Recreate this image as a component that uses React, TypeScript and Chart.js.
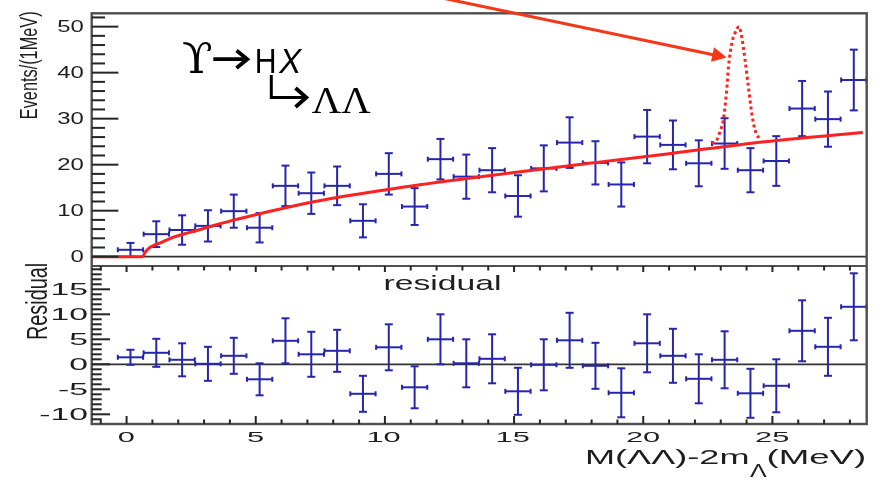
import React, { useEffect, useRef } from "react";
import { Chart, registerables } from "chart.js";

Chart.register(...registerables);

// ---------------- data ----------------
const binCenters = [0.15, 1.15, 2.15, 3.15, 4.15, 5.15, 6.15, 7.15, 8.15, 9.15, 10.15, 11.15, 12.15, 13.15, 14.15, 15.15, 16.15, 17.15, 18.15, 19.15, 20.15, 21.15, 22.15, 23.15, 24.15, 25.15, 26.15, 27.15, 28.15];
const events = [1.5, 4.9, 5.8, 6.7, 9.9, 6.3, 15.4, 13.8, 15.4, 7.8, 18.0, 10.9, 21.2, 17.4, 18.8, 13.2, 19.2, 24.8, 20.4, 15.7, 26.1, 24.3, 20.3, 24.6, 18.8, 20.8, 32.2, 29.9, 38.4];
const eventErrors = [1.5, 2.8, 3.2, 3.4, 3.6, 3.2, 4.4, 4.5, 4.2, 3.6, 4.5, 4.0, 4.4, 4.8, 4.8, 4.5, 5.0, 5.5, 4.7, 4.8, 5.8, 5.3, 5.0, 5.5, 4.8, 5.4, 6.0, 6.0, 6.6];
const residuals = [1.4, 2.3, 0.9, 0.1, 1.7, -3.0, 4.7, 2.0, 2.7, -5.9, 3.4, -4.6, 5.0, 0.2, 1.1, -5.4, -0.1, 4.8, -0.3, -5.7, 4.2, 1.7, -2.9, 0.9, -5.8, -4.3, 6.7, 3.5, 11.5];
const residualErrors = [1.5, 2.8, 3.3, 3.4, 3.6, 3.2, 4.5, 4.5, 4.2, 3.6, 4.6, 4.2, 5.0, 4.8, 4.9, 4.7, 5.1, 5.5, 4.6, 4.9, 5.8, 5.4, 4.9, 5.7, 4.9, 5.3, 6.1, 5.8, 6.7];
const fitX = [-1.35, 0.6, 0.75, 0.9, 1.3, 1.7, 2.45, 3.2, 4.1, 5.2, 7.1, 10.1, 12.5, 15.0, 18.2, 21.0, 24.7, 28.5];
const fitY = [0, 0, 1.2, 2.0, 3.0, 4.0, 5.3, 6.5, 7.9, 9.4, 11.8, 14.6, 16.5, 18.3, 20.5, 22.4, 25.0, 27.0];
const peakX = [22.65, 22.85, 22.97, 23.1, 23.23, 23.3, 23.43, 23.55, 23.71, 23.81, 23.94, 24.07, 24.2, 24.33, 24.52];
const peakY = [24.6, 25.4, 27.2, 29.7, 36.2, 41.3, 46.4, 48.6, 50.0, 47.8, 42.8, 36.9, 31.2, 27.5, 25.4];

const eventTicks = [0, 10, 20, 30, 40, 50];
const residualTicks = [-10, -5, 0, 5, 10, 15];
const massTicks = [0, 5, 10, 15, 20, 25];
const eventTickLabels = ["0", "10", "20", "30", "40", "50"];
const residualTickLabels = ["-10", "-5", "0", "5", "10", "15"];
const massTickLabels = ["0", "5", "10", "15", "20", "25"];
// minor tick positions
const eventMinorTicks = [2, 4, 6, 8, 12, 14, 16, 18, 22, 24, 26, 28, 32, 34, 36, 38, 42, 44, 46, 48, 52];
const residualMinorTicks = [-11, -9, -8, -7, -6, -4, -3, -2, -1, 1, 2, 3, 4, 6, 7, 8, 9, 11, 12, 13, 14, 16, 17, 18, 19];
const massMinorTicks = [-1, 1, 2, 3, 4, 6, 7, 8, 9, 11, 12, 13, 14, 16, 17, 18, 19, 21, 22, 23, 24, 26, 27, 28];

// annotation arrow (data coordinates of the upper panel)
const arrowFrom = { x: 9.0, y: 60.0 };
const arrowTo = { x: 23.23, y: 43.3 };

const binHalfWidth = 0.49;

// ---------------- styles ----------------
const BLUE = "#2626ad";
const RED = "rgb(255,32,32)";
const ARROW = "rgb(245,55,25)";
const FRAME = "#4f4f4f";
const INK = "#1e1e1e";
const TICK = "#262626";

type Box = [number, number, number, number];

function fitInk(ctx: CanvasRenderingContext2D, text: string, font: string, box: Box, color: string) {
  ctx.save();
  ctx.font = font;
  ctx.textAlign = "left";
  ctx.textBaseline = "alphabetic";
  const m = ctx.measureText(text);
  const iw = m.actualBoundingBoxLeft + m.actualBoundingBoxRight;
  const ih = m.actualBoundingBoxAscent + m.actualBoundingBoxDescent;
  const sx = (box[2] - box[0]) / iw;
  const sy = (box[3] - box[1]) / ih;
  ctx.translate(box[0] + m.actualBoundingBoxLeft * sx, box[1] + m.actualBoundingBoxAscent * sy);
  ctx.scale(sx, sy);
  ctx.fillStyle = color;
  ctx.fillText(text, 0, 0);
  ctx.restore();
}

// text reading upwards (rotated -90deg), fitted into a screen box
function fitInkUp(ctx: CanvasRenderingContext2D, text: string, font: string, box: Box, color: string) {
  ctx.save();
  ctx.font = font;
  ctx.textAlign = "left";
  ctx.textBaseline = "alphabetic";
  const m = ctx.measureText(text);
  const iw = m.actualBoundingBoxLeft + m.actualBoundingBoxRight;
  const ih = m.actualBoundingBoxAscent + m.actualBoundingBoxDescent;
  const su = (box[3] - box[1]) / iw;
  const sv = (box[2] - box[0]) / ih;
  const ox = box[0] + m.actualBoundingBoxAscent * sv;
  const oy = box[3] - m.actualBoundingBoxLeft * su;
  ctx.translate(ox, oy);
  ctx.rotate(-Math.PI / 2);
  ctx.scale(su, sv);
  ctx.fillStyle = color;
  ctx.fillText(text, 0, 0);
  ctx.restore();
}

function tickLabel(
  ctx: CanvasRenderingContext2D,
  text: string,
  font: string,
  stretch: number,
  capH: number,
  ax: number,
  align: "right" | "center",
  cy: number
) {
  ctx.save();
  ctx.font = font;
  ctx.textAlign = "left";
  ctx.textBaseline = "alphabetic";
  const m = ctx.measureText(text);
  const sy = capH / m.actualBoundingBoxAscent;
  const sx = stretch * sy;
  const w = (m.actualBoundingBoxLeft + m.actualBoundingBoxRight) * sx;
  const left = align === "right" ? ax - w : ax - w / 2;
  const top = cy - capH / 2;
  ctx.translate(left + m.actualBoundingBoxLeft * sx, top + m.actualBoundingBoxAscent * sy);
  ctx.scale(sx, sy);
  ctx.fillStyle = INK;
  ctx.fillText(text, 0, 0);
  ctx.restore();
}

function hline(ctx: CanvasRenderingContext2D, x1: number, x2: number, y: number) {
  ctx.beginPath();
  ctx.moveTo(x1, y);
  ctx.lineTo(x2, y);
  ctx.stroke();
}
function vline(ctx: CanvasRenderingContext2D, x: number, y1: number, y2: number) {
  ctx.beginPath();
  ctx.moveTo(x, y1);
  ctx.lineTo(x, y2);
  ctx.stroke();
}
function polyline(ctx: CanvasRenderingContext2D, pts: number[][]) {
  ctx.beginPath();
  ctx.moveTo(pts[0][0], pts[0][1]);
  for (let i = 1; i < pts.length; i++) ctx.lineTo(pts[i][0], pts[i][1]);
  ctx.stroke();
}

const decorPlugin = {
  id: "rootDecor",
  beforeDatasetsDraw(chart: any) {
    const ctx: CanvasRenderingContext2D = chart.ctx;
    const xs = chart.scales.x;
    const yT = chart.scales.y;
    const yB = chart.scales.y2;
    const area = chart.chartArea;
    ctx.save();
    ctx.strokeStyle = "#333";
    ctx.lineWidth = 1.8;
    hline(ctx, area.left, area.right, yT.getPixelForValue(0));
    hline(ctx, area.left, area.right, yB.getPixelForValue(0));
    ctx.restore();

    // error-bar crosses
    chart.data.datasets.forEach((ds: any) => {
      if (!ds.errors) return;
      const ys = chart.scales[ds.yAxisID];
      ctx.save();
      ctx.strokeStyle = BLUE;
      ctx.lineWidth = 2;
      ds.data.forEach((p: any, j: number) => {
        const e = ds.errors[j];
        const cx = xs.getPixelForValue(p.x);
        const cy = ys.getPixelForValue(p.y);
        const t = ys.getPixelForValue(p.y + e);
        const b = ys.getPixelForValue(p.y - e);
        const l = xs.getPixelForValue(p.x - binHalfWidth);
        const r = xs.getPixelForValue(p.x + binHalfWidth);
        hline(ctx, l, r, cy);
        vline(ctx, cx, t, b);
        hline(ctx, cx - 4, cx + 4, t);
        hline(ctx, cx - 4, cx + 4, b);
        vline(ctx, l, cy - 2.5, cy + 2.5);
        vline(ctx, r, cy - 2.5, cy + 2.5);
      });
      ctx.restore();
    });
  },
  afterDraw(chart: any) {
    const ctx: CanvasRenderingContext2D = chart.ctx;
    const xs = chart.scales.x;
    const yT = chart.scales.y;
    const yB = chart.scales.y2;
    const area = chart.chartArea;
    const L = area.left;
    const R = area.right;
    const T = area.top;
    const B = area.bottom;
    const divider = yB.top;

    // frame + divider between panels
    ctx.save();
    ctx.strokeStyle = FRAME;
    ctx.lineWidth = 2.4;
    ctx.strokeRect(L, T, R - L, B - T);
    ctx.lineWidth = 2;
    hline(ctx, L, R, divider);
    ctx.restore();

    // tick labels
    const sans = '"Liberation Sans", Arial, sans-serif';
    eventTicks.forEach((v, i) =>
      tickLabel(ctx, eventTickLabels[i], `15px ${sans}`, 1.45, 11, 83.3, "right", yT.getPixelForValue(v))
    );
    residualTicks.forEach((v, i) =>
      tickLabel(ctx, residualTickLabels[i], `15px ${sans}`, 2.1, 10.7, 87.3, "right", yB.getPixelForValue(v))
    );
    massTicks.forEach((v, i) =>
      tickLabel(ctx, massTickLabels[i], `14px ${sans}`, 2.2, 10, xs.getPixelForValue(v), "center", 436.7)
    );

    // axis titles
    fitInkUp(ctx, "Events/(1MeV)", `19px ${sans}`, [20, 11.7, 41.7, 118.3], INK);
    fitInkUp(ctx, "Residual", `20px ${sans}`, [25, 263.3, 46.7, 339], INK);
    fitInk(ctx, "residual", `22px ${sans}`, [385, 275, 500, 290], INK);
    fitInk(ctx, "M(ΛΛ)-2m", `20px ${sans}`, [586.7, 448, 748.3, 468], INK);
    fitInk(ctx, "Λ", `15px ${sans}`, [750, 465, 766.7, 476.7], INK);
    fitInk(ctx, "(MeV)", `20px ${sans}`, [768.3, 448, 865, 468], INK);

    // decay label
    fitInk(ctx, "ϒ", '40px "DejaVu Serif", "Liberation Serif", serif', [183, 42.7, 212, 73.3], "#000");
    fitInk(ctx, "H", `33px ${sans}`, [256.7, 49.3, 275, 73.3], "#000");
    fitInk(ctx, "X", `italic 33px ${sans}`, [278.3, 48.3, 303.3, 73.3], "#000");
    fitInk(ctx, "ΛΛ", '28px "Liberation Serif", "DejaVu Serif", serif', [311.7, 89, 371.7, 112.7], "#000");
    ctx.save();
    ctx.strokeStyle = "#000";
    ctx.lineCap = "butt";
    ctx.lineJoin = "miter";
    ctx.lineWidth = 3.8;
    hline(ctx, 213.3, 246, 59.2);
    polyline(ctx, [[236.5, 50.5], [247.3, 59.2], [236.5, 67.9]]);
    ctx.lineWidth = 3;
    polyline(ctx, [[271.3, 75], [271.3, 97.5], [304, 97.5]]);
    ctx.lineWidth = 3.8;
    polyline(ctx, [[295.5, 88], [306.3, 97.5], [295.5, 107]]);
    ctx.restore();

    // arrow annotation pointing to the expected signal
    const fx = xs.getPixelForValue(arrowFrom.x);
    const fy = yT.getPixelForValue(arrowFrom.y);
    const tx = xs.getPixelForValue(arrowTo.x);
    const ty = yT.getPixelForValue(arrowTo.y);
    const ang = Math.atan2(ty - fy, tx - fx);
    const headLen = 14.5;
    const headHalf = 7.4;
    const bx = tx - headLen * Math.cos(ang);
    const by = ty - headLen * Math.sin(ang);
    ctx.save();
    ctx.strokeStyle = ARROW;
    ctx.fillStyle = ARROW;
    ctx.lineWidth = 3;
    ctx.beginPath();
    ctx.moveTo(fx, fy);
    ctx.lineTo(bx + 2 * Math.cos(ang), by + 2 * Math.sin(ang));
    ctx.stroke();
    ctx.beginPath();
    ctx.moveTo(tx, ty);
    ctx.lineTo(bx - headHalf * Math.sin(ang), by + headHalf * Math.cos(ang));
    ctx.lineTo(bx + headHalf * Math.sin(ang), by - headHalf * Math.cos(ang));
    ctx.closePath();
    ctx.fill();
    ctx.restore();

    // ticks (ROOT style, pointing inwards)
    ctx.save();
    ctx.fillStyle = TICK;
    const hTick = (y: number, len: number) => ctx.fillRect(L, y - 1, len, 2);
    const vTick = (x: number, y0: number, len: number) =>
      ctx.fillRect(x - 1, len > 0 ? y0 : y0 + len, 2, Math.abs(len));
    eventTicks.forEach((v) => hTick(yT.getPixelForValue(v), 26.7));
    eventMinorTicks.forEach((v) => hTick(yT.getPixelForValue(v), 13.3));
    residualTicks.forEach((v) => hTick(yB.getPixelForValue(v), 18.3));
    residualMinorTicks.forEach((v) => hTick(yB.getPixelForValue(v), 10));
    massTicks.forEach((v) => {
      const px = xs.getPixelForValue(v);
      vTick(px, B, -8);
      vTick(px, divider, 6);
    });
    massMinorTicks.forEach((v) => {
      const px = xs.getPixelForValue(v);
      vTick(px, B, -4.5);
      vTick(px, divider, 4.5);
    });
    ctx.restore();
  },
};

export default function App() {
  const canvasRef = useRef<HTMLCanvasElement | null>(null);

  useEffect(() => {
    const canvas = canvasRef.current;
    if (!canvas) return;
    const chart = new Chart(canvas, {
      type: "scatter",
      data: {
        datasets: [
          {
            type: "line",
            label: "fit",
            data: fitX.map((x, i) => ({ x, y: fitY[i] })),
            yAxisID: "y",
            borderColor: RED,
            borderWidth: 3,
            pointRadius: 0,
            cubicInterpolationMode: "monotone",
            fill: false,
          } as any,
          {
            type: "line",
            label: "signal",
            data: peakX.map((x, i) => ({ x, y: peakY[i] })),
            yAxisID: "y",
            borderColor: RED,
            borderWidth: 3,
            borderDash: [3, 3],
            pointRadius: 0,
            cubicInterpolationMode: "monotone",
            fill: false,
          } as any,
          {
            label: "events",
            data: binCenters.map((x, i) => ({ x, y: events[i] })),
            errors: eventErrors,
            yAxisID: "y",
            pointRadius: 0,
            showLine: false,
          } as any,
          {
            label: "residual",
            data: binCenters.map((x, i) => ({ x, y: residuals[i] })),
            errors: residualErrors,
            yAxisID: "y2",
            pointRadius: 0,
            showLine: false,
          } as any,
        ],
      },
      options: {
        responsive: false,
        animation: false,
        events: [],
        layout: { padding: { left: 91.7, right: 10.3, top: 13.3, bottom: 56 } },
        plugins: { legend: { display: false }, tooltip: { enabled: false } },
        scales: {
          x: { type: "linear", min: -1.35, max: 28.65, display: false },
          // stacked left axes are placed in reverse order of definition: lower panel first
          y2: {
            type: "linear",
            position: "left",
            stack: "panels",
            stackWeight: 158,
            min: -11.94,
            max: 19.66,
            display: false,
          },
          y: {
            type: "linear",
            position: "left",
            stack: "panels",
            stackWeight: 252.7,
            min: -2.02,
            max: 52.9,
            display: false,
          },
        } as any,
      },
      plugins: [decorPlugin],
    });
    return () => chart.destroy();
  }, []);

  return (
    <div style={{ position: "absolute", left: 0, top: 0, width: 877, height: 480, background: "#fff" }}>
      <canvas ref={canvasRef} width={877} height={480} style={{ display: "block" }} />
    </div>
  );
}
